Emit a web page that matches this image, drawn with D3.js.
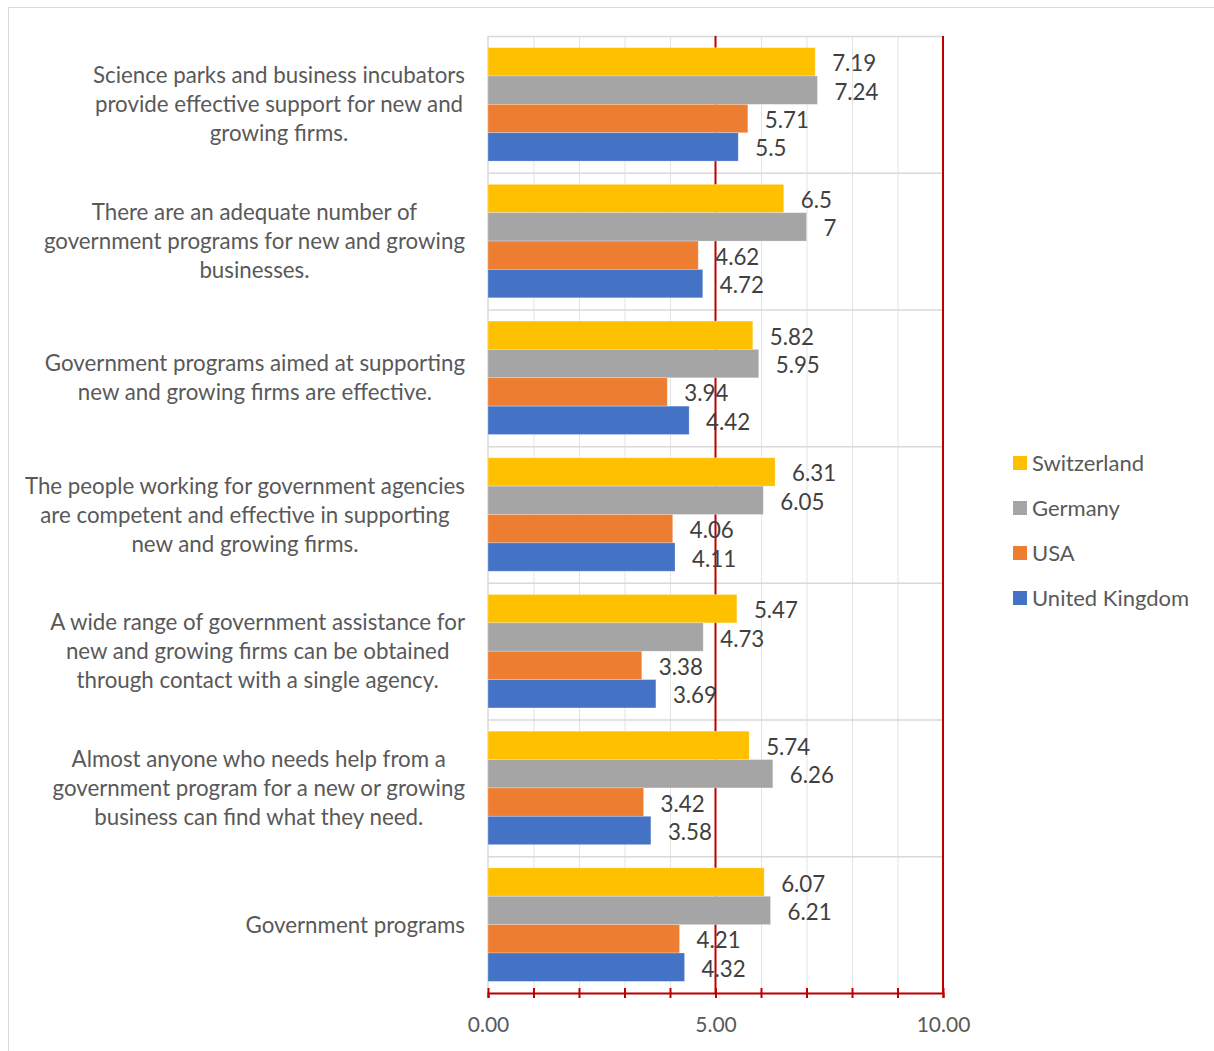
<!DOCTYPE html>
<html><head><meta charset="utf-8">
<script src="https://cdn.jsdelivr.net/npm/d3@7"></script>
<style>body{margin:0;background:#fff}svg{display:block;font-family:Lato,"Open Sans",sans-serif}</style>
</head><body>
<svg id="c" width="1214" height="1051"></svg>
<script>
const categories = [
  ["Science parks and business incubators","provide effective support for new and","growing firms."],
  ["There are an adequate number of","government programs for new and growing","businesses."],
  ["Government programs aimed at supporting","new and growing firms are effective."],
  ["The people working for government agencies","are competent and effective in supporting","new and growing firms."],
  ["A wide range of government assistance for","new and growing firms can be obtained","through contact with a single agency."],
  ["Almost anyone who needs help from a","government program for a new or growing","business can find what they need."],
  ["Government programs"]
];
const seriesNames = ["Switzerland","Germany","USA","United Kingdom"];
const switzerland = [7.19, 6.5, 5.82, 6.31, 5.47, 5.74, 6.07];
const germany     = [7.24, 7, 5.95, 6.05, 4.73, 6.26, 6.21];
const usa         = [5.71, 4.62, 3.94, 4.06, 3.38, 3.42, 4.21];
const uk          = [5.5, 4.72, 4.42, 4.11, 3.69, 3.58, 4.32];
const seriesColors = ["#FFC000","#A5A5A5","#ED7D31","#4472C4"];
const xTickLabels = [0, 5, 10];

const seriesValues = [switzerland, germany, usa, uk];
const svg = d3.select("#c");
const FS = 22.3;

// outer border
svg.append("rect").attr("x",8.5).attr("y",7.5).attr("width",1214).attr("height",1051)
  .attr("fill","none").attr("stroke","#d9d9d9");

const x = d3.scaleLinear().domain([0,10]).range([488,943]);
const catIdx = d3.range(categories.length);
const y = d3.scaleBand().domain(catIdx).range([36,993]).padding(0);
const yIn = d3.scaleBand().domain(d3.range(seriesNames.length)).range([0,y.bandwidth()])
  .paddingInner(0).paddingOuter(0.41);

// vertical gridlines
svg.append("g").selectAll("line").data(d3.range(1,11).filter(v=>v!==5 && v!==10)).join("line")
  .attr("x1",d=>x(d)+0.5).attr("x2",d=>x(d)+0.5).attr("y1",36).attr("y2",993)
  .attr("stroke","#e3e3e3").attr("stroke-width",1);
// horizontal separators
svg.append("g").selectAll("line").data(d3.range(categories.length+1)).join("line")
  .attr("x1",488).attr("x2",943)
  .attr("y1",d=>36+d*y.step()+0.5).attr("y2",d=>36+d*y.step()+0.5)
  .attr("stroke","#d9d9d9").attr("stroke-width",1.5);
// left axis line
svg.append("line").attr("x1",x(0)).attr("x2",x(0)).attr("y1",36).attr("y2",993)
  .attr("stroke","#d9d9d9").attr("stroke-width",1.5);
// red lines at 5 and 10 (behind bars)
svg.append("g").selectAll("line").data([5,10]).join("line")
  .attr("x1",d=>x(d)).attr("x2",d=>x(d)).attr("y1",36).attr("y2",993)
  .attr("stroke","#C00000").attr("stroke-width",2);

// bars
const gCat = svg.append("g").selectAll("g").data(catIdx).join("g")
  .attr("transform",d=>`translate(0,${y(d)})`);
gCat.selectAll("rect").data(c=>seriesValues.map((s,i)=>({i,v:s[c]}))).join("rect")
  .attr("x",x(0)).attr("y",d=>yIn(d.i)).attr("height",yIn.bandwidth())
  .attr("width",d=>x(d.v)-x(0)).attr("fill",d=>seriesColors[d.i])
  .attr("stroke","#ffffff").attr("stroke-opacity",0.35).attr("stroke-width",0.75);

// value labels
gCat.selectAll("text").data(c=>seriesValues.map((s,i)=>({i,v:s[c]}))).join("text")
  .attr("x",d=>x(d.v)+17).attr("y",d=>yIn(d.i)+yIn.bandwidth()/2+1.5)
  .attr("dy","0.36em").attr("font-size",FS).attr("fill","#404040")
  .text(d=>String(d.v));

// x axis
const ax = svg.append("g").attr("transform","translate(0,993)")
  .call(d3.axisBottom(x).tickValues(d3.range(0,11)).tickSize(5).tickFormat(""));
ax.select(".domain").attr("stroke","#C00000").attr("stroke-width",2);
ax.selectAll(".tick line").attr("stroke","#C00000").attr("stroke-width",2).attr("y1",-5).attr("y2",5);
const ax2 = svg.append("g").attr("transform","translate(0,993)")
  .call(d3.axisBottom(x).tickValues(xTickLabels).tickSize(0).tickPadding(24).tickFormat(d3.format(".2f")));
ax2.select(".domain").remove();
ax2.selectAll("text").attr("font-size",21).attr("fill","#595959").attr("font-family","Lato");

// category labels
const lineH = 29;
catIdx.forEach(c=>{
  const lines = categories[c];
  const g = svg.append("g");
  const cy = y(c)+y.bandwidth()/2;
  const texts = g.selectAll("text").data(lines).join("text")
    .attr("y",(d,i)=>cy+(i-(lines.length-1)/2)*lineH).attr("dy","0.36em")
    .attr("font-size",FS).attr("fill","#595959").attr("text-anchor","middle").text(d=>d);
  let maxW = 0; texts.each(function(){maxW=Math.max(maxW,this.getComputedTextLength());});
  texts.attr("x",465-maxW/2);
});

// legend
const leg = svg.append("g").selectAll("g").data(seriesNames).join("g")
  .attr("transform",(d,i)=>`translate(1013,${463+i*45})`);
leg.append("rect").attr("x",0).attr("y",-7).attr("width",14).attr("height",14)
  .attr("fill",(d,i)=>seriesColors[i]);
leg.append("text").attr("x",19).attr("dy","0.36em").attr("font-size",22).attr("fill","#595959").text(d=>d);
</script>
</body></html>
